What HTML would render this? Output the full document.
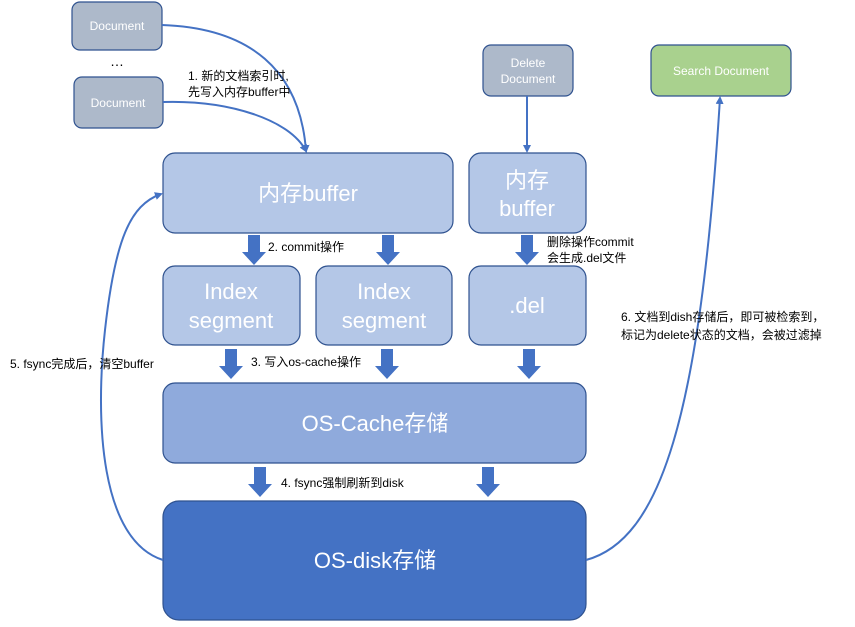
<!DOCTYPE html>
<html><head><meta charset="utf-8"><style>
body{margin:0;background:#fff;}
text{font-family:"Liberation Sans","Noto Sans CJK SC",sans-serif;}
</style></head><body>
<svg width="855" height="622" viewBox="0 0 855 622" xmlns="http://www.w3.org/2000/svg">
<defs>
<marker id="a" markerWidth="8" markerHeight="8" refX="6" refY="4" orient="auto" markerUnits="userSpaceOnUse"><path d="M0,0 L8,4 L0,8 z" fill="#4472c4"/></marker>
<g id="ba"><rect x="-6" y="0" width="12" height="18" fill="#4472c4"/><path d="M-12,17 L12,17 L0,30 z" fill="#4472c4"/></g>
</defs>
<g stroke="#2f528f" stroke-width="1.2">
<rect x="72" y="2" width="90" height="48" rx="8" fill="#adb9ca"/>
<rect x="74" y="77" width="89" height="51" rx="8" fill="#adb9ca"/>
<rect x="483" y="45" width="90" height="51" rx="8" fill="#adb9ca"/>
<rect x="651" y="45" width="140" height="51" rx="8" fill="#a9d18e"/>
<rect x="163" y="153" width="290" height="80" rx="12" fill="#b4c7e7"/>
<rect x="469" y="153" width="117" height="80" rx="12" fill="#b4c7e7"/>
<rect x="163" y="266" width="137" height="79" rx="12" fill="#b4c7e7"/>
<rect x="316" y="266" width="136" height="79" rx="12" fill="#b4c7e7"/>
<rect x="469" y="266" width="117" height="79" rx="12" fill="#b4c7e7"/>
<rect x="163" y="383" width="423" height="80" rx="12" fill="#8faadc"/>
<rect x="163" y="501" width="423" height="119" rx="16" fill="#4472c4"/>
</g>
<g fill="#fff" text-anchor="middle">
<text x="117" y="30" font-size="12">Document</text>
<text x="118" y="107" font-size="12">Document</text>
<text x="528" y="67" font-size="12">Delete</text>
<text x="528" y="83" font-size="12">Document</text>
<text x="721" y="75" font-size="12">Search Document</text>
<text x="308" y="201" font-size="22">内存buffer</text>
<text x="527" y="188" font-size="22">内存</text>
<text x="527" y="216" font-size="22">buffer</text>
<text x="231" y="299" font-size="22">Index</text>
<text x="231" y="328" font-size="22">segment</text>
<text x="384" y="299" font-size="22">Index</text>
<text x="384" y="328" font-size="22">segment</text>
<text x="527" y="313" font-size="22">.del</text>
<text x="375" y="431" font-size="22">OS-Cache存储</text>
<text x="375" y="568" font-size="22">OS-disk存储</text>
</g>
<text x="117" y="66" font-size="14" text-anchor="middle" fill="#000">…</text>
<g fill="none" stroke="#4472c4" stroke-width="2" marker-end="url(#a)">
<path d="M162,25 C250,28 300,70 306,151"/>
<path d="M163,102 C230,100 290,120 306,151"/>
<path d="M527,96 L527,151"/>
<path d="M586,560 C660,540 700,420 720,98"/>
<path d="M163,560 C100,540 95,420 105,330 C115,240 130,205 161,194"/>
</g>
<use href="#ba" x="254" y="235"/><use href="#ba" x="388" y="235"/><use href="#ba" x="527" y="235"/>
<use href="#ba" x="231" y="349"/><use href="#ba" x="387" y="349"/><use href="#ba" x="529" y="349"/>
<use href="#ba" x="260" y="467"/><use href="#ba" x="488" y="467"/>
<g font-size="12" fill="#000">
<text x="188" y="80">1. 新的文档索引时,</text>
<text x="188" y="96">先写入内存buffer中</text>
<text x="268" y="251">2. commit操作</text>
<text x="547" y="246">删除操作commit</text>
<text x="547" y="262">会生成.del文件</text>
<text x="251" y="366">3. 写入os-cache操作</text>
<text x="281" y="487">4. fsync强制刷新到disk</text>
<text x="10" y="368">5. fsync完成后，清空buffer</text>
<text x="621" y="321">6. 文档到dish存储后，即可被检索到，</text>
<text x="621" y="339">标记为delete状态的文档，会被过滤掉</text>
</g>
</svg>
</body></html>
